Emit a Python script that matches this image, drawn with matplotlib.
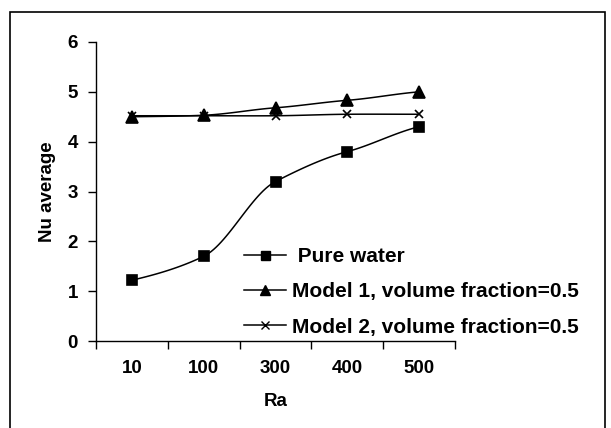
import numpy as np
import matplotlib
matplotlib.use("Agg")
import matplotlib.pyplot as plt
from matplotlib.patches import Rectangle

plt.rcParams["font.family"] = ["Liberation Sans", "DejaVu Sans"]
plt.rcParams["font.weight"] = "bold"

RA_LABELS = ["10", "100", "300", "400", "500"]
PURE_WATER = [1.22, 1.70, 3.20, 3.80, 4.30]
MODEL_1 = [4.50, 4.53, 4.68, 4.83, 5.00]
MODEL_2 = [4.52, 4.52, 4.52, 4.55, 4.55]


def smooth(y, n=30, tension=0.7):
    """Cardinal-spline curve through the points (like a spreadsheet 'smoothed line')."""
    y = np.asarray(y, float)
    x = np.arange(len(y), dtype=float)
    px = np.concatenate([[2 * x[0] - x[1]], x, [2 * x[-1] - x[-2]]])
    py = np.concatenate([[2 * y[0] - y[1]], y, [2 * y[-1] - y[-2]]])
    xs, ys = [], []
    for i in range(1, len(px) - 2):
        p0, p1, p2, p3 = py[i - 1], py[i], py[i + 1], py[i + 2]
        t = np.linspace(0, 1, n)
        m1 = tension * (p2 - p0) / 2
        m2 = tension * (p3 - p1) / 2
        h00 = 2 * t**3 - 3 * t**2 + 1
        h10 = t**3 - 2 * t**2 + t
        h01 = -2 * t**3 + 3 * t**2
        h11 = t**3 - t**2
        xs.append(px[i] + t * (px[i + 1] - px[i]))
        ys.append(h00 * p1 + h10 * m1 + h01 * p2 + h11 * m2)
    return np.concatenate(xs), np.concatenate(ys)


W, H = 611, 428
fig = plt.figure(figsize=(W / 100, H / 100), dpi=100)
ax = fig.add_axes([96 / W, 1 - 341 / H, (455 - 96) / W, (341 - 42) / H])

x = np.arange(len(RA_LABELS))
series = [
    (" Pure water", PURE_WATER, "s", 7.2),
    ("Model 1, volume fraction=0.5", MODEL_1, "^", 8.5),
    ("Model 2, volume fraction=0.5", MODEL_2, "x", 6),
]
handles = []
for label, vals, mk, ms in series:
    sx, sy = smooth(vals)
    ax.plot(sx, sy, color="black", lw=1.1)
    ax.plot(x, vals, linestyle="none", marker=mk, ms=ms, color="black", mew=1.2)
    h, = ax.plot([], [], color="black", lw=1.1, marker=mk, ms=ms * 0.9, mew=1.0, label=label)
    handles.append(h)

ax.set_xlim(-0.5, len(RA_LABELS) - 0.5)
ax.set_ylim(0, 6)
ax.set_yticks(range(0, 7))
ax.set_xticks(np.arange(-0.5, len(RA_LABELS), 1.0))
ax.set_xticklabels([])
ax.set_xticks(x, minor=True)
ax.set_xticklabels(RA_LABELS, minor=True)
ax.tick_params(axis="x", which="major", direction="out", length=6, width=1)
ax.tick_params(axis="x", which="minor", length=0, pad=14, labelsize=13.5)
ax.tick_params(axis="y", direction="out", length=6, width=1, pad=7, labelsize=13.5)
for s in ["top", "right"]:
    ax.spines[s].set_visible(False)
for s in ["left", "bottom"]:
    ax.spines[s].set_linewidth(1.0)

ax.set_xlabel("Ra", fontsize=13.5, fontweight="bold", labelpad=11)
ax.set_ylabel("Nu average", fontsize=13.5, fontweight="bold", labelpad=8)

fig.legend(handles=handles, loc="upper left",
           bbox_to_anchor=(244 / W, 1 - 247 / H),
           frameon=False, fontsize=15, handlelength=2.0, handletextpad=0.3,
           labelspacing=0.78, borderpad=0, borderaxespad=0)

fig.patches.append(Rectangle((10 / W, -0.05), (605 - 10) / W, 1.05 - 12 / H,
                             transform=fig.transFigure, fill=False,
                             edgecolor="black", lw=1.2))

fig.savefig("out.png", dpi=100)
